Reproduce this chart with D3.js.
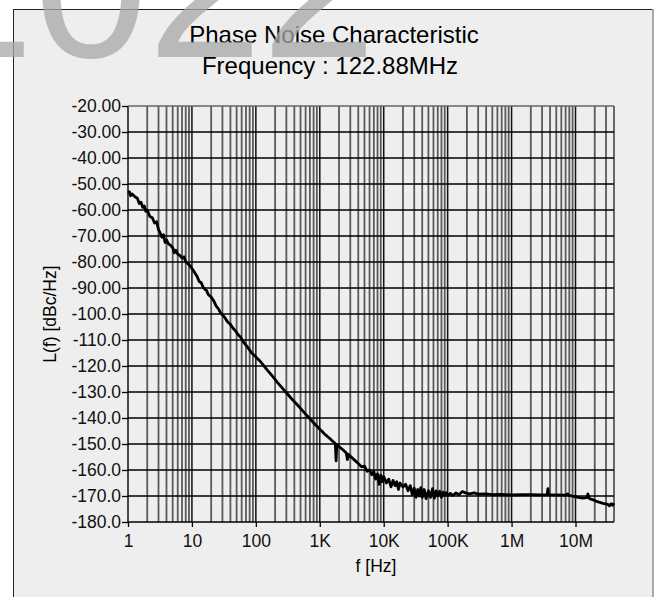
<!DOCTYPE html>
<html lang="en">
<head>
<meta charset="utf-8">
<title>Phase Noise Characteristic</title>
<style>
  body { margin: 0; background: #fff; }
  svg { display: block; font-family: "Liberation Sans", Arial, sans-serif; }
  .axis path { display: none; }
  .axis line { stroke: #000; stroke-width: 1.3; }
  .axis text { font-size: 17.5px; fill: #111; }
</style>
</head>
<body>
<div id="chart"></div>
<script src="https://cdn.jsdelivr.net/npm/d3@7/dist/d3.min.js"></script>
<script>
var freqHz = [
  1, 1.05, 1.1, 1.15, 1.2, 1.3, 1.4, 1.5, 1.6, 1.7, 1.8, 1.9, 2.0, 2.2, 2.4, 2.6, 2.8, 3.0, 3.2, 3.4,
  3.6, 3.8, 4.0, 4.3, 4.6, 5.0, 5.3, 5.6, 6.0, 6.5, 7.0, 7.5, 8.0, 9.0, 10,
  11, 12, 13, 14, 15, 16, 17, 18, 20, 22, 24, 26, 28, 30, 33, 36, 40, 44, 48, 53, 58, 63, 70, 78, 86, 95, 100,
  120, 150, 186, 220, 260, 300, 360, 430, 500, 600, 700, 850, 1000,
  1100, 1200, 1300, 1450, 1600, 1750, 1800, 1850, 2000, 2300, 2600, 2700, 2800, 3100, 3500, 4000, 4500,
  5000, 5500, 6000, 6500, 7000, 7500, 8000, 8500, 9000, 9500, 10000,
  11e3, 12e3, 13e3, 14e3, 15e3, 16e3, 17e3, 18e3, 20e3, 22e3, 24e3, 26e3, 28e3, 30e3, 32e3, 34e3, 36e3,
  38e3, 40e3, 43e3, 46e3, 50e3, 54e3, 58e3, 62e3, 66e3, 70e3, 75e3, 80e3, 85e3, 90e3, 95e3, 100e3,
  110e3, 120e3, 135e3, 150e3, 170e3, 190e3, 220e3, 260e3, 300e3, 400e3, 500e3, 700e3, 1e6,
  1.5e6, 2e6, 3e6, 3.6e6, 3.7e6, 3.8e6, 5e6, 7e6, 7.5e6, 8e6, 10e6, 13e6, 15e6, 15.6e6, 16.5e6,
  19e6, 22e6, 27e6, 32e6, 34e6, 36e6, 38e6, 40e6
];
var noiseDbc = [
  -53.5, -53.0, -54.5, -53.8, -54.2, -55.0, -55.5, -57.5, -57.0, -59.0, -58.5, -60.5, -60.0, -62.5, -63.0, -65.0, -64.5, -67.5, -69.0, -70.5,
  -69.5, -72.5, -71.5, -73.0, -73.5, -74.5, -76.5, -75.5, -77.0, -77.5, -78.5, -78.0, -80.0, -81.0, -82.5,
  -84.0, -85.5, -87.5, -88.0, -89.8, -90.5, -91.0, -92.5, -93.5, -95.0, -97.0, -98.0, -99.5, -100.3, -101.5, -103.0, -104.0, -105.5, -106.5, -108.0, -109.0, -110.5, -112.0, -113.5, -115.0, -116.0, -116.5,
  -118.5, -121.5, -124.2, -126.5, -128.5, -130.3, -132.5, -134.5, -136.3, -138.5, -140.3, -142.5, -144.3,
  -145.3, -146.3, -147.0, -148.0, -149.0, -149.8, -156.5, -150.2, -151.0, -152.2, -153.5, -156.0, -154.0, -155.0, -156.2, -157.5, -158.8,
  -158.5, -160.5, -160.0, -161.8, -160.5, -163.5, -161.5, -165.5, -162.0, -164.5, -162.5,
  -165.0, -163.5, -166.5, -164.0, -166.0, -164.5, -167.5, -165.0, -166.5, -165.5, -168.0, -166.0, -169.5, -167.0, -170.5, -167.5, -170.0,
  -166.8, -170.5, -167.5, -171.0, -168.0, -170.5, -167.2, -170.8, -168.0, -170.0, -168.2, -170.5, -168.5, -169.8, -168.7, -169.8,
  -169.0, -169.8, -168.8, -169.5, -168.3, -168.8, -169.2, -168.8, -169.3, -169.2, -169.5, -169.4, -169.6,
  -169.5, -169.5, -169.6, -169.5, -167.2, -169.5, -169.6, -169.7, -169.2, -169.8, -170.3, -170.8, -170.6, -169.2, -171.0,
  -171.5, -172.2, -172.8, -173.2, -173.8, -173.0, -173.6, -172.8
];

var xTickValues = [1, 10, 100, 1e3, 1e4, 1e5, 1e6, 1e7];
var xTickLabels = ["1", "10", "100", "1K", "10K", "100K", "1M", "10M"];
var yTickValues = [-20, -30, -40, -50, -60, -70, -80, -90, -100, -110, -120, -130, -140, -150, -160, -170, -180];
var yTickLabels = ["-20.00", "-30.00", "-40.00", "-50.00", "-60.00", "-70.00", "-80.00", "-90.00",
  "-100.0", "-110.0", "-120.0", "-130.0", "-140.0", "-150.0", "-160.0", "-170.0", "-180.0"];

var width = 654, height = 597;
var margin = {left: 128, top: 106, right: 40, bottom: 75};

var svg = d3.select("#chart").append("svg")
    .attr("width", width)
    .attr("height", height);

// panel
svg.append("rect")
    .attr("x", 13.5).attr("y", 9.5)
    .attr("width", 639.5).attr("height", 600)
    .attr("fill", "#eeeeee")
    .attr("stroke", "#222");
svg.append("line")
    .attr("x1", 653).attr("x2", 653).attr("y1", 9).attr("y2", height)
    .attr("stroke", "#aaa").attr("stroke-width", 2);

var x = d3.scaleLog()
    .domain([1, 4e7])
    .range([margin.left, width - margin.right]);
var y = d3.scaleLinear()
    .domain([-180, -20])
    .range([height - margin.bottom, margin.top]);

// vertical grid: 1..9 in each decade
var gridX = [];
for (var d = 0; d < 8; d++) {
  for (var m = 1; m < 10; m++) {
    var v = m * Math.pow(10, d);
    if (v <= 4e7) gridX.push({v: v, major: m === 1});
  }
}
svg.append("g").selectAll("line")
  .data(gridX)
  .enter().append("line")
    .attr("x1", function(d) { return x(d.v); })
    .attr("x2", function(d) { return x(d.v); })
    .attr("y1", y(-20))
    .attr("y2", y(-180))
    .attr("stroke", function(d) { return d.major ? "#111" : "#5a5a5a"; })
    .attr("stroke-width", function(d) { return d.major ? 1.5 : 1.8; });

// horizontal grid
svg.append("g").selectAll("line")
  .data(yTickValues)
  .enter().append("line")
    .attr("x1", x(1))
    .attr("x2", x(4e7))
    .attr("y1", function(d) { return y(d); })
    .attr("y2", function(d) { return y(d); })
    .attr("stroke", function(d) { return d === -20 ? "#666" : "#000"; })
    .attr("stroke-width", 1.4);

// axes
svg.append("g")
    .attr("class", "axis")
    .attr("transform", "translate(" + margin.left + ",0)")
    .call(d3.axisLeft(y)
      .tickValues(yTickValues)
      .tickFormat(function(d, i) { return yTickLabels[i]; })
      .tickSize(6)
      .tickPadding(1));

svg.append("g")
    .attr("class", "axis")
    .attr("transform", "translate(0," + (height - margin.bottom) + ")")
    .call(d3.axisBottom(x)
      .tickValues(xTickValues)
      .tickFormat(function(d, i) { return xTickLabels[i]; })
      .tickSize(5)
      .tickPadding(8));

// trace
var points = freqHz.map(function(f, i) { return [f, noiseDbc[i]]; });
svg.append("path")
    .datum(points)
    .attr("fill", "none")
    .attr("stroke", "#000")
    .attr("stroke-width", 2.8)
    .attr("stroke-linejoin", "round")
    .attr("d", d3.line()
      .x(function(d) { return x(d[0]); })
      .y(function(d) { return y(d[1]); }));

// titles
svg.append("text")
    .attr("x", 334).attr("y", 43)
    .attr("text-anchor", "middle")
    .style("font-size", "24px")
    .text("Phase Noise Characteristic");
svg.append("text")
    .attr("x", 330).attr("y", 74)
    .attr("text-anchor", "middle")
    .style("font-size", "24px")
    .text("Frequency : 122.88MHz");

svg.append("text")
    .attr("transform", "translate(56," + ((margin.top + height - margin.bottom) / 2) + ") rotate(-90)")
    .attr("text-anchor", "middle")
    .style("font-size", "17.5px")
    .text("L(f) [dBc/Hz]");
svg.append("text")
    .attr("x", 376).attr("y", 572)
    .attr("text-anchor", "middle")
    .style("font-size", "17.5px")
    .text("f [Hz]");

// watermark
svg.append("text")
    .attr("x", -80).attr("y", 57)
    .attr("fill", "#a8a8a8")
    .attr("opacity", 0.75)
    .style("font-size", "205px")
    .text("2022");
</script>
</body>
</html>
